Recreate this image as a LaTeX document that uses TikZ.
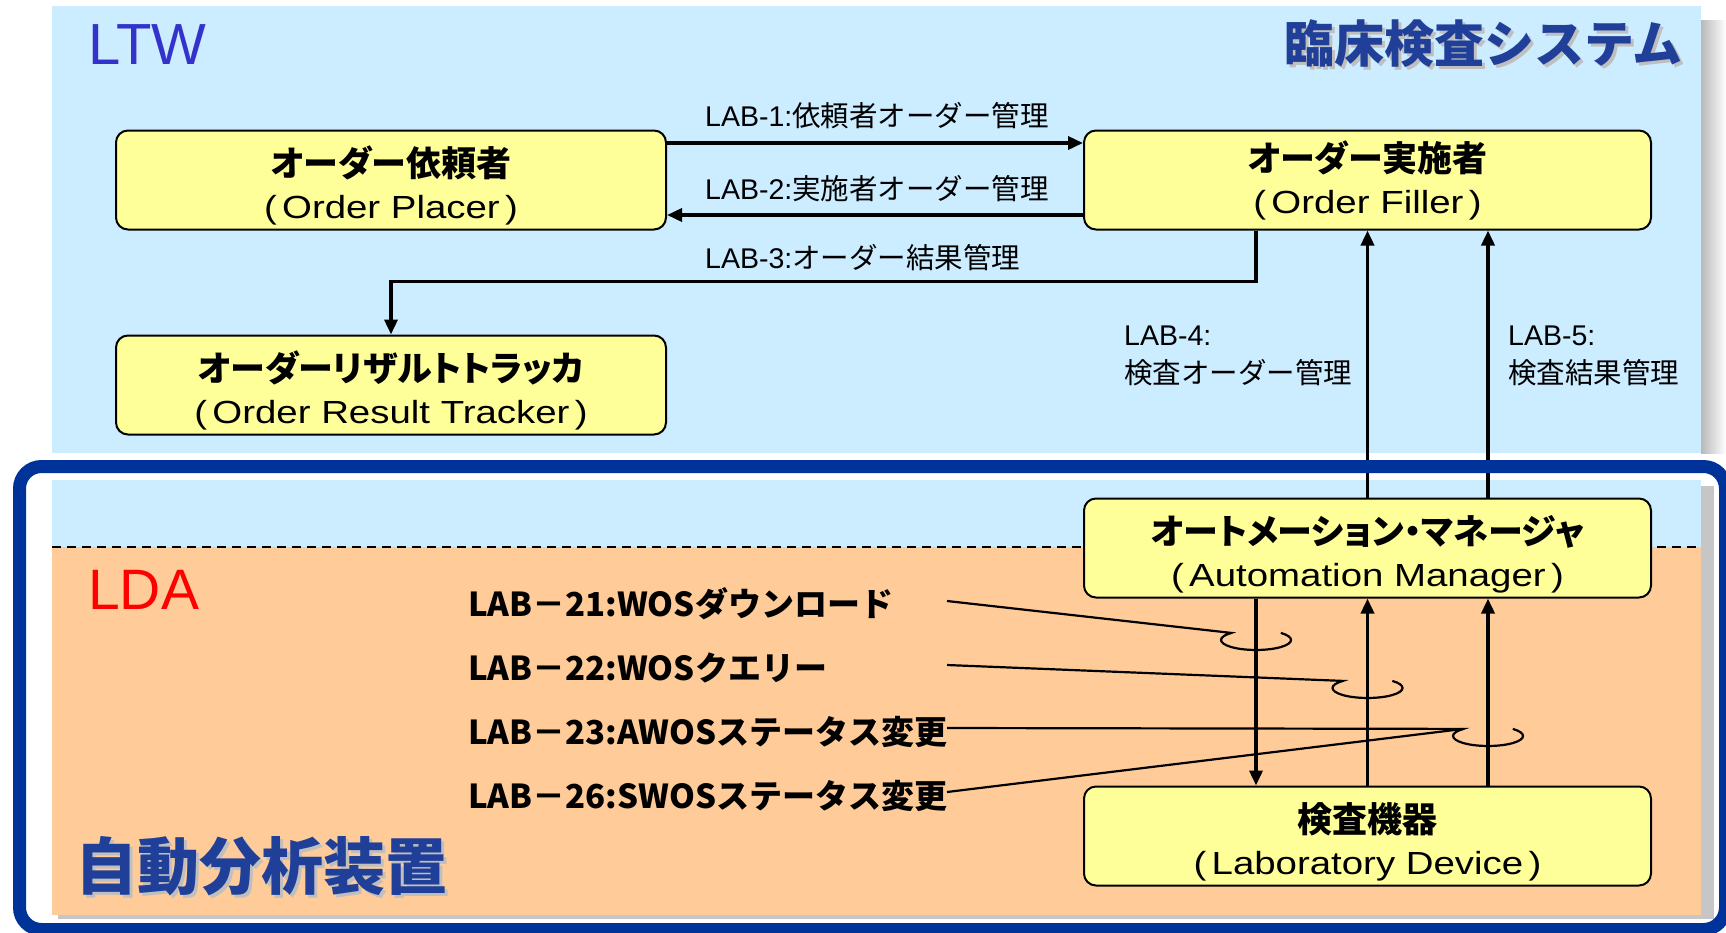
\documentclass[tikz,border=0pt]{standalone}
\usepackage{fontspec}
\setmainfont{Noto Sans CJK JP}
\newfontfamily\latn{Liberation Sans}
\newfontfamily\latnwide[FakeStretch=1.2]{Liberation Sans}
\newfontfamily\jpp[RawFeature=+palt]{Noto Sans CJK JP}
\usepackage{tikz}
\usetikzlibrary{arrows.meta}
\usetikzlibrary{calc}

\definecolor{ltwblue}{HTML}{CCECFF}
\definecolor{ldaorange}{HTML}{FFCC99}
\definecolor{boxyellow}{HTML}{FFFF99}
\definecolor{frameblue}{HTML}{003399}
\definecolor{ttlblue}{HTML}{1F3F99}
\definecolor{ltwtext}{HTML}{3333CC}
% box title, the strut pushes the two lines a little down
\newcommand{\boxttl}[2][31pt]{{\jpp\bfseries\fontsize{35}{42}\selectfont\rule{0pt}{#1}#2}}

\begin{document}
\begin{tikzpicture}[x=1pt,y=1pt,yscale=-1]
  \useasboundingbox (0,0) rectangle (1726,932);
  \tikzstyle{arrow} = [line width=3.5pt,-{Triangle[length=15pt,width=13pt]}]
  \tikzstyle{box} = [draw=black,line width=2pt,rounded corners=12pt,fill=boxyellow,minimum height=99pt,align=center,inner sep=0pt,font=\latnwide\fontsize{32}{42}\selectfont]
  \tikzstyle{lab} = [anchor=west,inner sep=0pt,font=\fontsize{28.5}{38}\selectfont]
  \tikzstyle{wos} = [anchor=west,inner sep=0pt,font=\bfseries\fontsize{33}{33}\selectfont]
  \tikzstyle{lead} = [line width=2.2pt]
  %Draw the two areas
  \shade[left color=gray!55,right color=white] (1701,20) rectangle (1726,453);
  \fill[ltwblue] (52,6) rectangle (1701,453);
  \fill[white,rounded corners=22pt] (19.5,466.5) rectangle (1725.5,929.5);
  \fill[gray!45] (58,486) rectangle (1714,919);
  \fill[ltwblue] (52,480) rectangle (1701,547);
  \fill[ldaorange] (52,547) rectangle (1701,915);
  \draw[line width=2pt,dash pattern=on 9pt off 6pt] (52,547) -- (1701,547);
  % Area titles
  \node[anchor=base west,inner sep=0pt,text=ltwtext,font=\latn\fontsize{58}{58}\selectfont] (ltw) at (88,64) {LTW};
  \node[anchor=base west,inner sep=0pt,text=red,font=\latn\fontsize{57}{57}\selectfont] (lda) at (88,609) {LDA};
  \node[anchor=east,inner sep=0pt,text=gray!50,font=\bfseries\fontsize{50}{50}\selectfont] (sysshadow) at (1686,47) {臨床検査システム};
  \node[anchor=east,inner sep=0pt,text=ttlblue,font=\bfseries\fontsize{50}{50}\selectfont] (sys) at (1683,44) {臨床検査システム};
  \node[anchor=west,inner sep=0pt,text=gray!50,font=\bfseries\fontsize{62}{62}\selectfont] (devshadow) at (78,869) {自動分析装置};
  \node[anchor=west,inner sep=0pt,text=ttlblue,font=\bfseries\fontsize{62}{62}\selectfont] (dev) at (75,866) {自動分析装置};
  %Draw the actors
  \node[box,minimum width=550pt] (placer) at (391,180) {\boxttl[41pt]{オーダー依頼者}\\(\,Order Placer\,)};
  \node[box,minimum width=550pt] (tracker) at (391,385) {\boxttl[41pt]{オーダーリザルトトラッカ}\\(\,Order Result Tracker\,)};
  \node[box,minimum width=567pt] (filler) at (1367.5,180) {\boxttl{オーダー実施者}\\(\,Order Filler\,)};
  \node[box,minimum width=567pt] (am) at (1367.5,548) {\boxttl[41pt]{オートメーション・マネージャ}\\(\,Automation Manager\,)};
  \node[box,minimum width=567pt] (ld) at (1367.5,836) {\boxttl[41pt]{検査機器}\\(\,Laboratory Device\,)};
  % Label the transactions
  \node[lab] (lab1) at (705,116) {{\latn LAB-1:}依頼者オーダー管理};
  \node[lab] (lab2) at (705,189) {{\latn LAB-2:}実施者オーダー管理};
  \node[lab] (lab3) at (705,258) {{\latn LAB-3:}オーダー結果管理};
  \node[lab,align=left] (lab4) at (1124,356) {{\latn LAB-4:}\\検査オーダー管理};
  \node[lab,align=left] (lab5) at (1508,356) {{\latn LAB-5:}\\検査結果管理};
  \node[wos] (lab21) at (468,604) {LAB－21:WOSダウンロード};
  \node[wos] (lab22) at (468,668) {LAB－22:WOSクエリー};
  \node[wos] (lab23) at (468,732) {LAB－23:AWOSステータス変更};
  \node[wos] (lab26) at (468,796) {LAB－26:SWOSステータス変更};
  %Draw the arrows
  \draw[arrow] ($(placer.east)+(0,-37)$) -- ($(filler.west)+(0,-37)$);
  \draw[arrow] ($(filler.west)+(0,35)$) -- ($(placer.east)+(0,35)$);
  \draw[arrow] ($(filler.south)+(-111.5,0)$) -- ++(0,51) -| (tracker.north);
  \draw[arrow] (am.north) -- (filler.south);
  \draw[arrow] ($(am.north)+(120.5,0)$) -- ($(filler.south)+(120.5,0)$);
  \draw[arrow] ($(am.south)+(-111.5,0)$) -- ($(ld.north)+(-111.5,0)$);
  \draw[arrow] (ld.north) -- (am.south);
  \draw[arrow] ($(ld.north)+(120.5,0)$) -- ($(am.south)+(120.5,0)$);
  %Draw the leaders and loops
  \coordinate (s21) at (947,601);
  \coordinate (s22) at (947,665);
  \coordinate (s23) at (947,728);
  \coordinate (s26) at (947,792);
  \coordinate (e21) at (1231.3,632.9);
  \coordinate (e22) at (1342.8,680.9);
  \coordinate (e23) at (1463.3,728.9);
  \draw[lead] (s21) -- (e21) arc[start angle=-135,end angle=-405,x radius=35,y radius=10];
  \draw[lead] (s22) -- (e22) arc[start angle=-135,end angle=-405,x radius=35,y radius=10];
  \draw[lead] (s23) -- (e23) arc[start angle=-135,end angle=-405,x radius=35,y radius=10];
  \draw[lead] (s26) -- (e23);
  % Frame of the device
  \draw[line width=13pt,frameblue,rounded corners=22pt] (19.5,466.5) rectangle (1725.5,929.5);
\end{tikzpicture}
\end{document}
